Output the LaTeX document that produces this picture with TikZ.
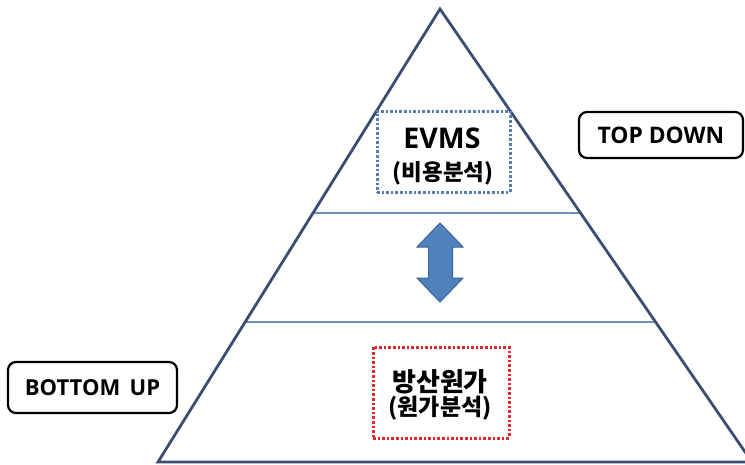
\documentclass[tikz,border=0pt]{standalone}
\usepackage{fontspec}
\setmainfont{Open Sans}
\newfontfamily\kfont{Noto Sans CJK KR}
\usetikzlibrary{calc}
\definecolor{triline}{HTML}{3B4D70}
\definecolor{hline}{HTML}{6F8FC0}
\definecolor{dotblue}{HTML}{5A7CB5}
\definecolor{dotred}{HTML}{E3262B}
\definecolor{arrfill}{HTML}{4F81BD}
\definecolor{arrdraw}{HTML}{3A6396}
\tikzset{
  tagbox/.style={draw=black, line width=2.2pt, rounded corners=8pt, fill=white, inner sep=0pt, font=\bfseries},
  dotbox/.style={line width=3pt, dash pattern=on 2.6pt off 2pt, inner sep=0pt},
  lbl/.style={anchor=base, inner sep=0pt},
}
\begin{document}
\begin{tikzpicture}[x=1pt,y=-1pt]
\fill[white] (0,0) rectangle (745,464);
\useasboundingbox (0,0) rectangle (745,464);
\coordinate (apex) at (440,9);
\coordinate (bl) at (158,462);
\coordinate (br) at (752,462);
\coordinate (l1) at ($(apex)!0.4503!(bl)$);
\coordinate (r1) at ($(apex)!0.4503!(br)$);
\coordinate (l2) at ($(apex)!0.691!(bl)$);
\coordinate (r2) at ($(apex)!0.691!(br)$);
\begin{scope}
\clip (0,0) rectangle (745,464);
\draw[hline, line width=1.2pt] (l1) -- (r1);
\draw[hline, line width=1.2pt] (l2) -- (r2);
\draw[triline, line width=2.8pt, line join=miter] (bl) -- (apex) -- (br) -- cycle;
\end{scope}
% double arrow
\draw[arrdraw, fill=arrfill, line width=1pt, line join=miter]
  (440,223) -- (463,247) -- (452.5,247) -- (452.5,278) -- (463,278) -- (440,302)
  -- (417,278) -- (428.5,278) -- (428.5,247) -- (417,247) -- cycle;
% boxes
\node[dotbox, draw=dotblue, minimum width=133pt, minimum height=81pt] (evms) at (443.5,151.5) {};
\node[lbl] (evmst) at (442,148) {\fontsize{28.5}{32}\selectfont\bfseries EVMS};
\node[lbl] (evmss) at (443,180) {\kfont\fontsize{22.5}{26}\selectfont\bfseries (비용분석)};
\node[dotbox, draw=dotred, minimum width=136pt, minimum height=91pt] (cost) at (441,392.5) {};
\node[lbl] (costt) at (440,391) {\kfont\fontsize{26}{28}\selectfont\bfseries 방산원가};
\node[lbl] (costs) at (440,415) {\kfont\fontsize{23}{26}\selectfont\bfseries (원가분석)};
\node[tagbox, minimum width=164pt, minimum height=46pt] (td) at (661,135) {\fontsize{22.8}{26}\selectfont TOP DOWN};
\node[tagbox, minimum width=169pt, minimum height=51pt] (bu) at (92.5,387.5) {\fontsize{22}{26}\selectfont BOTTOM\ \,UP};
\end{tikzpicture}
\end{document}
